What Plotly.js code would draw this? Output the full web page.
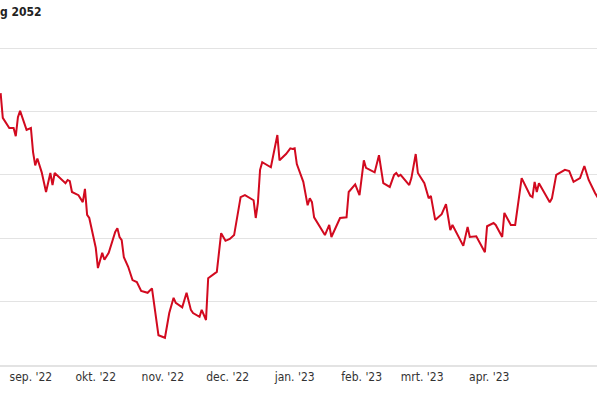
<!DOCTYPE html>
<html>
<head>
<meta charset="utf-8">
<script src="https://cdn.plot.ly/plotly-3.0.1.min.js"></script>
<style>html,body{margin:0;padding:0;background:#fff}#chart{width:597px;height:398px}</style>
</head>
<body>
<div id="chart"></div>
<script>
const dates = [
"2022-08-18","2022-08-19","2022-08-22","2022-08-24","2022-08-25","2022-08-26","2022-08-27","2022-08-28","2022-08-30",
"2022-09-01","2022-09-02","2022-09-03","2022-09-04","2022-09-06","2022-09-08","2022-09-10","2022-09-11","2022-09-12",
"2022-09-17","2022-09-18","2022-09-19","2022-09-20","2022-09-23","2022-09-25","2022-09-26","2022-09-27","2022-09-28",
"2022-10-01","2022-10-02","2022-10-04","2022-10-05","2022-10-07","2022-10-10","2022-10-11","2022-10-12","2022-10-13",
"2022-10-14","2022-10-16","2022-10-18","2022-10-20","2022-10-22","2022-10-25","2022-10-27","2022-10-30",
"2022-11-02","2022-11-04","2022-11-06","2022-11-07","2022-11-10","2022-11-12","2022-11-14","2022-11-15","2022-11-18",
"2022-11-19","2022-11-21","2022-11-22","2022-11-24","2022-11-26","2022-11-28","2022-11-30",
"2022-12-02","2022-12-04","2022-12-07","2022-12-09","2022-12-13","2022-12-14","2022-12-15","2022-12-16","2022-12-17",
"2022-12-21","2022-12-24","2022-12-25","2022-12-28","2022-12-30","2022-12-31",
"2023-01-01","2023-01-02","2023-01-05","2023-01-07","2023-01-08","2023-01-09","2023-01-10","2023-01-15","2023-01-17",
"2023-01-18","2023-01-22","2023-01-25","2023-01-26","2023-01-29","2023-01-31",
"2023-02-02","2023-02-03","2023-02-07","2023-02-09","2023-02-11","2023-02-14","2023-02-16","2023-02-17","2023-02-18",
"2023-02-19","2023-02-23","2023-02-24","2023-02-26","2023-02-27",
"2023-03-02","2023-03-04","2023-03-05","2023-03-07","2023-03-10","2023-03-12","2023-03-14","2023-03-15","2023-03-20",
"2023-03-22","2023-03-23","2023-03-26","2023-03-30","2023-03-31",
"2023-04-03","2023-04-04","2023-04-07","2023-04-08","2023-04-11","2023-04-13","2023-04-16","2023-04-20","2023-04-21",
"2023-04-22","2023-04-23","2023-04-24","2023-04-29","2023-04-30",
"2023-05-02","2023-05-06","2023-05-08","2023-05-10","2023-05-13","2023-05-15","2023-05-17","2023-05-20","2023-05-22"
];
const prices = [
82.9,79.0,77.4,77.4,76.1,79.1,80.1,79.0,77.1,
77.4,73.6,71.5,72.6,70.4,67.3,70.3,68.4,70.3,
68.7,69.2,69.0,67.3,66.8,65.7,67.8,63.7,63.2,
58.5,55.3,57.7,56.6,57.7,61.0,61.6,60.2,59.7,
57.0,55.5,53.4,53.1,51.7,51.4,52.1,44.7,
44.3,48.2,50.6,49.8,49.1,51.4,48.7,48.2,47.6,
48.7,47.1,53.7,54.2,54.7,60.8,59.6,
59.9,60.5,66.5,66.8,66.0,63.2,65.6,70.8,72.0,
71.2,76.3,72.3,73.3,74.2,74.1,
74.2,71.7,68.9,65.2,66.3,65.7,63.3,60.5,62.1,
60.2,63.2,63.3,67.3,68.5,66.8,
72.3,71.1,70.4,73.1,68.7,68.1,70.0,70.3,69.8,
70.0,68.4,69.5,73.3,70.3,
68.7,66.3,66.7,62.9,63.8,65.4,61.3,62.1,58.8,
61.8,60.2,60.3,57.8,61.9,
62.4,62.1,60.2,64.0,62.1,62.1,69.5,66.7,66.5,
68.9,67.3,68.7,65.7,66.3,
70.0,70.8,70.6,68.9,69.5,71.4,69.2,67.1,66.0
];
const tickDates = ["2022-09-01","2022-10-01","2022-11-01","2022-12-01","2023-01-01","2023-02-01","2023-03-01","2023-04-01"];
const tickLabels = ["sep. '22","okt. '22","nov. '22","dec. '22","jan. '23","feb. '23","mrt. '23","apr. '23"];
const titleText = "g 2052";

const narrow = "DejaVu Sans Condensed, Liberation Sans Narrow, Roboto, sans-serif";

Plotly.newPlot("chart", [{
  x: dates, y: prices, type: "scatter", mode: "lines",
  line: {color: "#d20a1f", width: 2}, hoverinfo: "skip"
}], {
  width: 597, height: 398,
  margin: {l: 0, r: 0, t: 45, b: 33},
  paper_bgcolor: "#fff", plot_bgcolor: "#fff",
  showlegend: false,
  xaxis: {
    type: "date",
    range: ["2022-08-17 17:00", "2023-05-20 20:24"],
    tickvals: tickDates, ticktext: tickLabels,
    ticks: "", showgrid: false, zeroline: false,
    showline: true, linecolor: "#e3e3e3", linewidth: 2,
    tickfont: {family: narrow, size: 12, color: "#333"}
  },
  yaxis: {
    range: [40, 90.5], dtick: 10, tick0: 40,
    showticklabels: false, ticks: "",
    showgrid: true, gridcolor: "#e3e3e3", gridwidth: 1,
    zeroline: false, showline: false
  },
  annotations: [{
    text: "<b>" + titleText + "</b>", xref: "paper", yref: "paper",
    x: 0, y: 1, xanchor: "left", yanchor: "middle",
    yshift: 33, xshift: -2, showarrow: false,
    font: {family: narrow, size: 12, color: "#222"}
  }]
}, {staticPlot: true, displayModeBar: false});
</script>
</body>
</html>
